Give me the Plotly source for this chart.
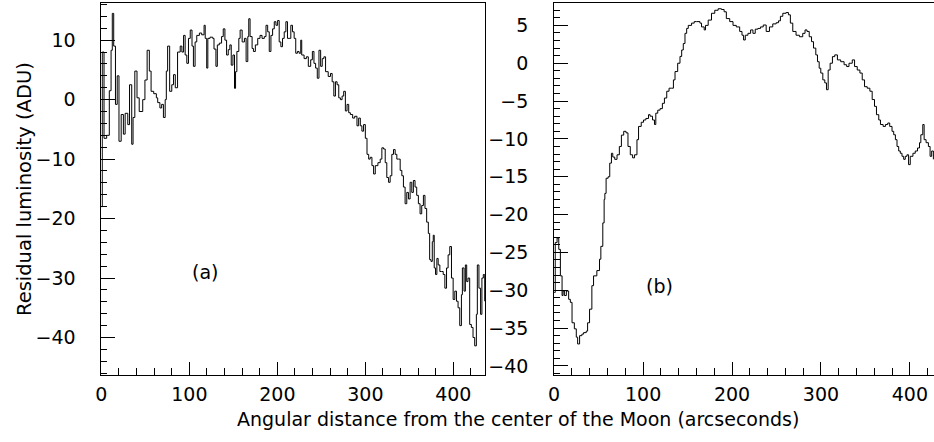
import plotly.graph_objects as go

# ---- Panel (a) data: angular distance (arcsec) vs residual luminosity (ADU)
dist_a = [0, 1, 3, 6, 9, 11, 12.4, 14, 16, 18, 20, 22.5, 25, 27, 30, 32, 34.5, 36, 38, 40.5,
          43, 47, 49.5, 52, 54.5, 56.5, 59.5, 62.5, 64, 66.5, 68.5, 70.5, 72.5, 73.8, 75.3,
          77.6, 80, 82, 84, 86.6, 89.6, 91.5, 93.4, 95.2, 97.1, 99, 101, 103, 104.6, 106.5,
          108.4, 111.4, 114, 116.7, 118, 119.7, 121, 123.5, 126.5, 128, 130.2, 131.8, 134,
          136.6, 138.5, 140.4, 142.3, 144.2, 146, 147.6, 149.5, 151.3, 152.5, 154, 156.2,
          157.7, 160, 162.6, 164.5, 166.4, 167.5, 169, 171.3, 172.8, 175, 177.7, 180.3, 182.6,
          185.2, 187.1, 189, 190.8, 192.7, 194.6, 196.5, 198.4, 200.3, 202.1, 204, 205.9,
          207.8, 209.7, 211.5, 213.4, 215.3, 217.2, 219.1, 220.9, 222.8, 224.7, 226.6, 227.7,
          230.4, 233, 235.2, 237.9, 239.8, 241.6, 243.5, 245.4, 247.3, 249.2, 251, 252.9,
          254.8, 257.8, 260.4, 262.3, 264.2, 266, 267.9, 269.8, 271.7, 273.6, 275.4, 277.3,
          279.2, 281.1, 283, 285.6, 287.9, 290.5, 292.4, 294.3, 296.1, 298, 300, 301.9, 303.8,
          305.5, 307.5, 309.4, 311.3, 314.3, 316.9, 318.8, 320.7, 322.6, 324.4, 326.4, 328.2,
          330.1, 332, 333.9, 335.8, 337.7, 339.6, 341.5, 343.3, 345.2, 347.1, 349, 350.9,
          352.8, 354.6, 356.5, 358.4, 360.3, 362.2, 364.1, 366, 367.8, 369.7, 371.6, 373.1,
          374.6, 376.1, 377.2, 378.3, 379.8, 381.3, 382.8, 384.7, 386.6, 388.5, 390.4, 392.3,
          394.1, 396, 397.9, 399.8, 401.7, 403.6, 405.4, 407.3, 409.2, 410.3, 412.2, 413.7,
          415.2, 416.7, 418.6, 420.5, 422.4, 424.3, 426.2, 427.3, 429.1, 431, 432.5, 434.1,
          435.6]
lum_a = [-18, 8, -6.5, -6, 1.5, 8.3, 14.5, 9, -0.8, 4, -7, -2.5, -5.8, -2.3, -4.2, 2.5, -7.5,
         -3, 4.8, 0.3, -2, 0, 3.3, 8.3, 4.8, 1.4, 1, 0.3, -0.5, -1.4, -0.8, -3, 0, 4.8, 9,
         1.4, 2.5, 4.2, 2, 8, 9, 8, 10.8, 7.5, 6.1, 10.3, 11.7, 9, 5.6, 9.7,
         10.8, 11.2, 10.9, 12.5, 10.3, 5.3, 10.3, 10.5, 10.3, 8.5, 5.6, 9.2, 9.5,
         10.6, 11.9, 10, 7.5, 8.4, 9.2, 5.8, 7.5, 1.9, 4.7, 8.1, 10.3,
         11.7, 9.7, 10.3, 6.4, 10.6, 13.6, 10.6, 8.6, 8.1, 9.2, 10.3, 10.8, 10.3,
         10.6, 12.5, 11.4, 8.1, 10.8, 11.9, 13.1, 12.5, 13.3, 9.7, 8.9, 10.3,
         11.4, 13.1, 10.3, 10.3, 12.5, 11.4, 10.3, 7.8, 8.1, 7.8, 10, 7.5,
         6.9, 7.2, 5.6, 6.7, 8.1, 6.1, 5.3, 3.6, 8.3, 5.6, 6.9, 7.2,
         4.7, 3.9, 4.4, 3, 0.6, 3, 2.5, 0.3, 0, 0.6, 1.4, -1.9,
         -0.8, -2.2, -2.5, -3.1, -2.8, -4.4, -3.1, -4.4, -5.3, -4.2, -6.5, -9.2, -10,
         -9.7, -11.1, -12.5, -11.1, -10.6, -10, -8.1, -8.3, -10.6, -13.1, -13.9, -12.8,
         -9.2, -8.4, -9.2, -10, -10, -11.9, -12.8, -14.7, -17.5, -15.6, -16.7, -13.9,
         -15.6, -13.6, -14.7, -16.1, -17.5, -19.2, -17.8, -16.1, -18.3, -20.6, -22.5, -26.9,
         -27.2, -23.9, -22.8, -28.3, -29.4, -26.7, -27.8, -28.9, -28.9, -29.4, -31.7, -28.3,
         -26.1, -24.7, -30, -33.6, -32.2, -33.9, -35, -38, -32.8, -28.3, -32.2, -27.8,
         -30.6, -30, -37.8, -38.3, -40, -41.4, -36.1, -27.8, -31.7, -36.1, -30, -29.4,
         -33.9]

# ---- Panel (b) data
dist_b = [0, 1.2, 3.3, 5.2, 7, 8.9, 10, 11.5, 13.7, 16.3, 18.2, 20.1, 22.7, 24.9, 26.4, 28.6,
          31.2, 33.1, 36.1, 37.6, 39.8, 42.4, 44.3, 48, 51, 52.5, 54.7, 56.2, 57, 58.4, 60.7,
          62.5, 64.4, 65.9, 68.1, 70.7, 73.3, 75.6, 78.2, 80.8, 83, 85.6, 88.2, 90.4, 93.1,
          94.9, 97.9, 100.5, 103.1, 106.1, 107.9, 110.6, 112.8, 114.3, 116.5, 119.1, 121.7,
          124, 126.6, 129.2, 132.2, 134.1, 135.9, 138.9, 141.5, 143.4, 145.2, 147.1, 149,
          150.8, 154.5, 157.5, 160.2, 163.9, 165.7, 168.7, 170.2, 173.2, 176.9, 180.6, 184.4,
          188.1, 191.1, 193.6, 197.4, 201.1, 204.8, 208.6, 211.2, 213, 214.9, 217.9, 220.9,
          223.5, 226.1, 229.1, 232.1, 235.1, 238.4, 242.1, 245.8, 249.6, 252.2, 254.4, 257.1,
          260.8, 263.4, 265.6, 268.3, 272, 275.8, 279.5, 282.1, 284.3, 286.8, 289.4, 291.6,
          294.2, 296.1, 298, 299.8, 302.1, 304.3, 306.2, 308.1, 310.3, 312.9, 315.5, 318.5,
          322.2, 326, 328.9, 331.5, 335.2, 337.8, 340.8, 343.8, 346.4, 349, 352, 355, 357.6,
          360.2, 362.4, 365, 366.9, 369.9, 372.5, 375.1, 377.3, 379.9, 381.8, 383.7, 385.5,
          387.4, 389.2, 391.1, 393, 394.8, 396.7, 398.5, 400.4, 403.4, 406, 408.6, 410.8,
          412.3, 414.5, 416, 418.2, 420.8, 422.7, 424.5, 426.4]
lum_b = [-30.3, -23.7, -23.1, -24.6, -28.1, -30.7, -30.1, -30.7, -30.1, -31.2, -31.6, -34.3,
         -35.1, -36.2, -37.1, -36, -35.8, -35.6, -35.4, -34.3, -32.5, -29.4, -28.1, -27.4,
         -25.9, -24.2, -21.1, -18, -17.2, -15.2, -15, -13.2, -11.9, -12.4, -12.7, -12.1, -11,
         -9.5, -9, -9.2, -11, -12.1, -12.5, -12.1, -10.1, -8.35, -7.8, -7.5, -7.3, -6.8, -7,
         -7.5, -8.1, -6.6, -6.2, -6, -5.3, -4.6, -3.7, -3.3, -3.3, -2.2, -1.1, 0, 0.9, 1.75,
         2.6, 3.95, 4.6, 5, 5.3, 5.5, 5.5, 5.3, 4.8, 4.4, 5, 5.7, 6.6, 7, 7.2, 7.1, 6.8, 5.9,
         5.5, 5, 4.8, 4.2, 3.7, 3.07, 3.7, 3.95, 4.4, 3.95, 4.5, 4.6, 4.8, 5.05, 4.2, 4.8,
         5.2, 5.35, 5.6, 6.2, 6.6, 6.7, 6.4, 5.3, 4.2, 3.7, 3.5, 3.95, 4.4, 4.2, 3.5, 2.85,
         2, 1.1, 0.2, -0.66, -1.3, -2.2, -2.6, -3.5, -0.9, 0, 0.87, 1.1, 0.44, 0.2, -0.2,
         -0.44, 0, 0.44, -0.44, -0.9, -1.3, -2.2, -3.1, -3.3, -3.7, -4.8, -5.7, -6.8, -7.5,
         -8.1, -8.35, -8.1, -7.9, -8.35, -9, -9.45, -10.1, -11, -11.6, -11.9, -12.3, -12.7,
         -12.3, -12.1, -13.4, -12.3, -11.9, -11.6, -11.2, -10.5, -9.45, -8.1, -10.1, -10.5,
         -11, -12.3, -11.6, -12.7]

x_title = "Angular distance from the center of the Moon (arcseconds)"
y_title = "Residual luminosity (ADU)"
labels = ["(a)", "(b)"]

W, H = 934, 442
FONT = "DejaVu Sans"

fig = go.Figure()
fig.add_trace(go.Scatter(x=dist_a, y=lum_a, mode="lines", line_shape="hv",
                         line=dict(color="black", width=1), xaxis="x", yaxis="y",
                         showlegend=False))
fig.add_trace(go.Scatter(x=dist_b, y=lum_b, mode="lines", line_shape="hv",
                         line=dict(color="black", width=1), xaxis="x2", yaxis="y2",
                         showlegend=False))

ydom = [1 - 376.7 / H, 1 - 2.7 / H]
tickfont = dict(family=FONT, size=19, color="black")

common_x = dict(showgrid=False, zeroline=False, showline=True, linecolor="black",
                linewidth=1, ticks="inside", ticklen=13, tickwidth=1, tickcolor="black",
                dtick=100, tick0=0, tickfont=tickfont, ticklabelstandoff=2,
                minor=dict(dtick=20, ticks="inside", ticklen=7, tickcolor="black", tickwidth=1))
common_y = dict(showgrid=False, zeroline=False, showline=True, linecolor="black",
                linewidth=1, ticks="inside", ticklen=14, tickwidth=1, tickcolor="black",
                tickfont=tickfont, ticklabelstandoff=21)

fig.update_layout(
    width=W, height=H,
    margin=dict(l=0, r=0, t=0, b=0),
    paper_bgcolor="white", plot_bgcolor="white",
    xaxis=dict(domain=[96 / W, 482 / W], range=[0, 435.9], anchor="y", mirror=True, **common_x),
    yaxis=dict(domain=ydom, range=[-46.3, 16.3], anchor="x", mirror=True, dtick=10, tick0=0,
               minor=dict(dtick=2, ticks="inside", ticklen=6, tickcolor="black", tickwidth=1),
               **common_y),
    xaxis2=dict(domain=[551.7 / W, 1.0], range=[0, 427.1], anchor="y2", mirror=True, **common_x),
    yaxis2=dict(domain=ydom, range=[-41.2, 8.0], anchor="x2", mirror=False, dtick=5, tick0=0,
                minor=dict(dtick=1, ticks="inside", ticklen=6, tickcolor="black", tickwidth=1),
                **common_y),
    annotations=[
        dict(text=labels[0], x=117.4, y=-29, xref="x", yref="y", showarrow=False,
             font=dict(family=FONT, size=19, color="black")),
        dict(text=labels[1], x=118.4, y=-29.4, xref="x2", yref="y2", showarrow=False,
             font=dict(family=FONT, size=19, color="black")),
        dict(text=x_title, x=515 / W, y=1 - 420.5 / H, xref="paper", yref="paper",
             showarrow=False, xanchor="center", yanchor="middle",
             font=dict(family=FONT, size=19, color="black")),
        dict(text=y_title, x=18.5 / W, y=1 - 189.5 / H, xref="paper", yref="paper",
             showarrow=False, xanchor="center", yanchor="middle", textangle=-90,
             font=dict(family=FONT, size=19.5, color="black")),
    ],
)

fig.write_html("out.html")
